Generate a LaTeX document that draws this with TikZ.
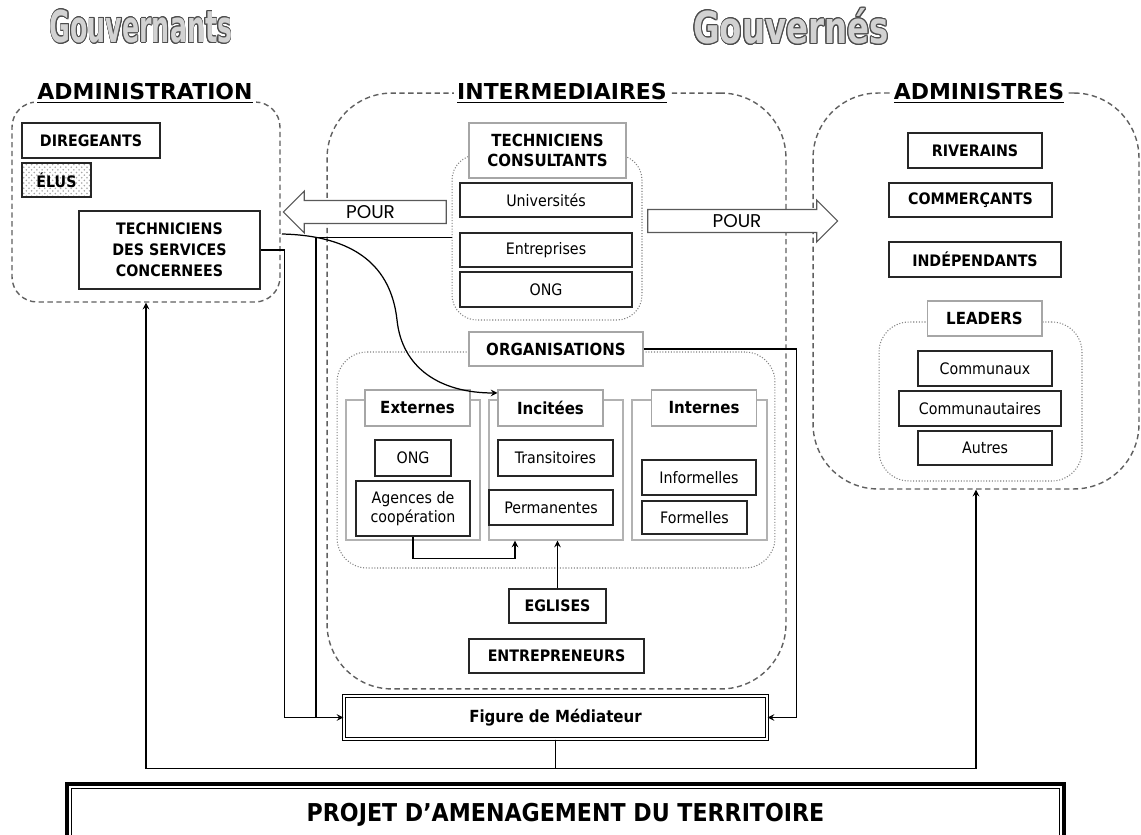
\documentclass[tikz,border=0pt]{standalone}
\usepackage{fontspec}
\setmainfont{DejaVu Sans Condensed}
\newfontfamily\headfont{DejaVu Sans}
\newfontfamily\pourfont{Poppins}
\usepackage{graphicx}
\usepackage[copies]{contour}
\usetikzlibrary{positioning,shapes,arrows,patterns}

\begin{document}
\begin{tikzpicture}[x=0.02cm,y=-0.02cm,>=stealth,
    zone/.style={draw=gray!75!black,dash pattern=on 3pt off 2pt,line width=0.8pt,rounded corners=1.3cm,inner sep=0},
    grp/.style={draw=gray,densely dotted,line width=0.6pt,rounded corners=0.5cm,inner sep=0},
    panel/.style={draw=gray!60,line width=0.7pt,inner sep=0},
    lbl/.style={draw=gray!70,fill=white,line width=0.6pt,inner sep=0,align=center,font=\bfseries\fontsize{9.5}{11.5}\selectfont},
    item/.style={draw=black!85,fill=white,line width=0.8pt,inner sep=0,align=center,font=\fontsize{9}{11}\selectfont},
    bitem/.style={item,font=\bfseries\fontsize{9}{12}\selectfont},
    title/.style={fill=white,inner sep=2pt,font=\headfont\bfseries\fontsize{12.5}{14}\selectfont},
    gov/.style={font=\bfseries\fontsize{25}{28}\selectfont},
    pour/.style={single arrow,draw=gray!70!black,fill=white,line width=0.6pt,single arrow head extend=0.19cm,single arrow tip angle=90,inner xsep=0,inner ysep=2.5pt,font=\pourfont\fontsize{10.5}{12}\selectfont},
    link/.style={line width=0.7pt}]
\useasboundingbox (0,0) rectangle (1141,834);
\contourlength{0.6pt}

% titres
\node[gov] (gouvernants) at (141,27) {\scalebox{0.64}[1]{\color{gray!35}\contour{gray!60!black}{Gouvernants}}};
\node[gov] (gouvernes) at (791,27) {\scalebox{0.82}[1]{\color{gray!35}\contour{gray!60!black}{Gouvernés}}};

% zones
\node[zone,rounded corners=0.5cm,minimum width=5.36cm,minimum height=4cm] (admin) at (146,202) {};
\node[zone,minimum width=9.18cm,minimum height=11.92cm] (inter) at (556.5,391) {};
\node[zone,minimum width=6.52cm,minimum height=7.92cm] (adm2) at (976,291) {};
\node[title] at (145,93) {\underline{ADMINISTRATION}};
\node[title] at (562,93) {\underline{INTERMEDIAIRES}};
\node[title] at (979,93) {\underline{ADMINISTRES}};

% administration
\node[bitem,minimum width=2.76cm,minimum height=0.7cm] (dir) at (91,140.5) {DIREGEANTS};
\node[bitem,pattern=crosshatch dots,pattern color=gray!70,minimum width=1.38cm,minimum height=0.68cm] (elus) at (56.5,180) {ÉLUS};
\node[bitem,minimum width=3.62cm,minimum height=1.56cm] (tds) at (169.5,250) {TECHNICIENS\\DES SERVICES\\CONCERNEES};

% intermediaires
\node[grp,minimum width=3.8cm,minimum height=3.3cm] (consgrp) at (547,237.5) {};
\node[lbl,minimum width=3.14cm,minimum height=1.1cm] (consl) at (547.5,150.5) {TECHNICIENS\\CONSULTANTS};
\node[item,minimum width=3.44cm,minimum height=0.68cm] (univ) at (546,200) {Universités};
\node[item,minimum width=3.44cm,minimum height=0.68cm] (entr) at (546,250) {Entreprises};
\node[item,minimum width=3.44cm,minimum height=0.7cm] (ongc) at (546,289.5) {ONG};

\node[pour,shape border rotate=180,minimum height=3.26cm] (pourg) at (370.5,212) {POUR};
\node[pour,minimum height=3.8cm] (pourd) at (737,221) {POUR};

\node[grp,rounded corners=0.6cm,minimum width=8.76cm,minimum height=4.32cm] (orggrp) at (556,460) {};
\node[lbl,minimum width=3.48cm,minimum height=0.68cm] (orgl) at (556,349) {ORGANISATIONS};
\node[panel,minimum width=2.68cm,minimum height=2.8cm] (extp) at (413,470) {};
\node[panel,minimum width=2.68cm,minimum height=2.8cm] (incp) at (556,470) {};
\node[panel,minimum width=2.7cm,minimum height=2.8cm] (intp) at (699.5,470) {};
\node[lbl,minimum width=2.1cm,minimum height=0.72cm] (extl) at (417.5,408) {Externes};
\node[lbl,minimum width=2.1cm,minimum height=0.72cm] (incl) at (550.5,408) {Incitées};
\node[lbl,minimum width=2.1cm,minimum height=0.72cm] (intl) at (704,408) {Internes};

\node[item,minimum width=1.52cm,minimum height=0.72cm] (onge) at (413,458) {ONG};
\node[item,minimum width=2.28cm,minimum height=1.1cm] (agen) at (413,508.5) {Agences de\\coopération};
\node[item,minimum width=2.3cm,minimum height=0.72cm] (trans) at (555.5,458) {Transitoires};
\node[item,minimum width=2.48cm,minimum height=0.7cm] (perm) at (551,507.5) {Permanentes};
\node[item,minimum width=2.28cm,minimum height=0.7cm] (inform) at (699,477.5) {Informelles};
\node[item,minimum width=2.1cm,minimum height=0.66cm] (form) at (694.5,517.5) {Formelles};

\node[bitem,minimum width=1.94cm,minimum height=0.68cm] (egl) at (557.5,606) {EGLISES};
\node[bitem,minimum width=3.5cm,minimum height=0.68cm] (entrep) at (556.5,656) {ENTREPRENEURS};

% administres
\node[bitem,minimum width=2.68cm,minimum height=0.7cm] (riv) at (975,150.5) {RIVERAINS};
\node[bitem,minimum width=3.26cm,minimum height=0.68cm] (comm) at (970.5,200) {COMMERÇANTS};
\node[bitem,minimum width=3.44cm,minimum height=0.7cm] (indep) at (975,259.5) {INDÉPENDANTS};
\node[grp,rounded corners=0.6cm,minimum width=4.06cm,minimum height=3.18cm] (leadgrp) at (980.5,401.5) {};
\node[lbl,minimum width=2.3cm,minimum height=0.7cm] (leadl) at (984.5,318.5) {LEADERS};
\node[item,minimum width=2.68cm,minimum height=0.7cm] (communx) at (985,368.5) {Communaux};
\node[item,minimum width=3.24cm,minimum height=0.7cm] (communt) at (980,408.5) {Communautaires};
\node[item,minimum width=2.68cm,minimum height=0.68cm] (autres) at (985,448) {Autres};

% mediateur et projet
\node[draw,double,double distance=1.3pt,line width=0.7pt,fill=white,minimum width=8.46cm,minimum height=0.86cm,font=\bfseries\fontsize{9.5}{12}\selectfont] (med) at (555.5,717.5) {Figure de Médiateur};
\node[draw,line width=2.2pt,minimum width=19.94cm,minimum height=1.22cm,font=\bfseries\fontsize{14}{16}\selectfont] (projet) at (565.5,814.5) {PROJET D’AMENAGEMENT DU TERRITOIRE};
\draw[line width=0.6pt] ([xshift=3.5pt,yshift=-3.5pt]projet.north west) rectangle ([xshift=-3.5pt,yshift=3.5pt]projet.south east);

% liaisons
\coordinate (cs) at (282,234);
\draw[link,->] (tds.east) -- ++(24,0) |- (med.west);
\draw[link] (consgrp.west) -| (med.west -| 316,0);
\draw[link,->] (cs) .. controls (365,236) and (392,275) .. (397,320) .. controls (402,368) and (440,393) .. ([yshift=-2pt]incl.north west);
\draw[link,->] (orgl.east) -- ++(153,0) |- (med.east);
\draw[link,->] (agen.south) -- ++(0,22) -| ([xshift=-0.82cm]incp.south);
\draw[link,->] (egl.north) -- (egl.north |- incp.south);
\draw[link,->] (med.south) -- ++(0,28.5) -| (admin.south);
\draw[link,->] (med.south) -- ++(0,28.5) -| (adm2.south);
\end{tikzpicture}
\end{document}
